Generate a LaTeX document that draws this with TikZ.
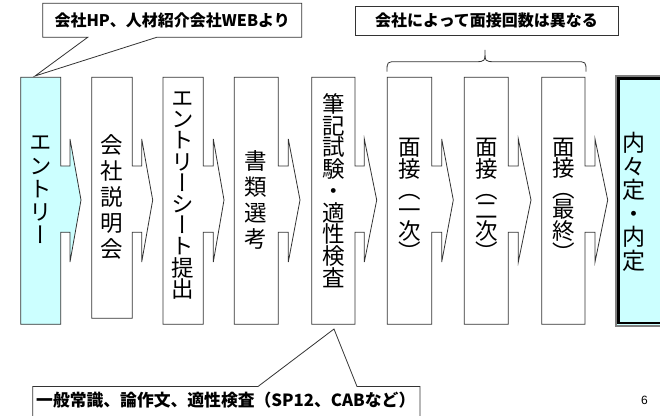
\documentclass[tikz,border=0pt]{standalone}
\usepackage{fontspec}
\newfontfamily\vjp[RawFeature=+vert]{Noto Sans CJK JP}
\newfontfamily\jpb{Noto Sans CJK JP}
\setmainfont{Liberation Sans}
\definecolor{lcyan}{HTML}{CCFFFF}
\definecolor{lgray}{HTML}{333333}
\newcommand\stepshape[7]{%
  \draw[stepline,fill=#7] (#1,#3) -- (#2,#3) -- (#2,166) -- (#5,166) -- (#5,139)
    -- (#6,200) -- (#5,262) -- (#5,232.3) -- (#2,232.3) -- (#2,#4) -- (#1,#4) -- cycle;}
\begin{document}
\begin{tikzpicture}[x=1pt,y=-1pt,
  stepline/.style={draw=lgray,line width=0.8pt},
  vt/.style={font=\vjp\fontsize{22.5}{#1}\selectfont,align=center,inner sep=0pt},
  calltext/.style={font=\jpb\bfseries\fontsize{16}{18}\selectfont,inner sep=0pt},
  callline/.style={draw=lgray,line width=0.8pt,fill=white}]
\useasboundingbox (0,0) rectangle (660,415);
\clip (0,0) rectangle (660,415);
\fill[white] (0,0) rectangle (660,415);

% steps
\stepshape{20.7}{60.7}{77.3}{324.3}{70}{81}{lcyan}
\stepshape{91.7}{132.3}{77.3}{318.3}{141.7}{152.7}{white}
\stepshape{163}{203.3}{77.3}{324.3}{213.3}{224}{white}
\stepshape{234.3}{278.3}{77.3}{324.3}{288.3}{300}{white}
\stepshape{311.7}{355}{77.3}{324.3}{364.3}{376.7}{white}
\stepshape{387.3}{431.7}{77.3}{324.3}{441.7}{453.3}{white}
\stepshape{464.3}{508.3}{77.3}{324.3}{518.3}{531}{white}
\stepshape{541.7}{585}{77.3}{324.3}{595}{607.7}{white}

% final box
\fill[lcyan] (615,75) rectangle (680,326.5);
\draw[gray,line width=2pt] (616,76) rectangle (680,325.5);
\draw[black,line width=2.4pt] (618.6,78.6) rectangle (680,322.9);

% vertical texts
\node[vt=23.3] (t1) at (41.2,190) {エ\\ン\\ト\\リ\\ー};
\node[vt=26] (t2) at (112,196.7) {会\\社\\説\\明\\会};
\node[vt=21.2] (t3) at (183.2,195.5) {エ\\ン\\ト\\リ\\ー\\シ\\ー\\ト\\提\\出};
\node[vt=26] (t4) at (256,199.5) {書\\類\\選\\考};
\node[vt=21.7] (t5) at (333.3,190.5) {筆\\記\\試\\験\\・\\適\\性\\検\\査};
\node[vt=20.5] (t6) at (409.5,199.5) {面\\接\\（\\一\\次\\）};
\node[vt=20.5] (t7) at (486.3,199.5) {面\\接\\（\\二\\次\\）};
\node[vt=20.5] (t8) at (563.3,199.5) {面\\接\\（\\最\\終\\）};
\node[vt=23.5,font=\vjp\fontsize{23}{23.5}\selectfont] (t9) at (633.5,202) {内\\々\\定\\・\\内\\定};

% callout 1
\draw[callline] (42.7,3.3) -- (301.7,3.3) -- (301.7,37.3) -- (156.7,37.3) -- (35,76)
  -- (87.7,37.3) -- (42.7,37.3) -- cycle;
\node[calltext] (c1) at (172.2,20.5) {会社HP、人材紹介会社WEBより};

% box 2 with brace
\draw[callline] (355,6) rectangle (618.3,35);
\node[calltext] (c2) at (486.6,20.5) {会社によって面接回数は異なる};
\draw[lgray,line width=0.8pt] (387,71.7) .. controls (387,61.7) .. (397,61.7) -- (475,61.7)
  .. controls (485,61.7) .. (485,50) .. controls (485,61.7) .. (495,61.7) -- (576,61.7)
  .. controls (586,61.7) .. (586,71.7);

% callout 3
\draw[callline] (32.8,386.5) -- (258,386.5) -- (334,329) -- (357,386.5) -- (420,386.5)
  -- (420,430) -- (32.8,430) -- cycle;
\node[calltext,font=\jpb\bfseries\fontsize{16.8}{18}\selectfont,anchor=west] (c3) at (36,400.5) {一般常識、論作文、適性検査（SP12、CABなど）};

% page number
\node[font=\fontsize{12}{14}\selectfont,inner sep=0pt] (pn) at (644.5,400) {6};
\end{tikzpicture}
\end{document}
